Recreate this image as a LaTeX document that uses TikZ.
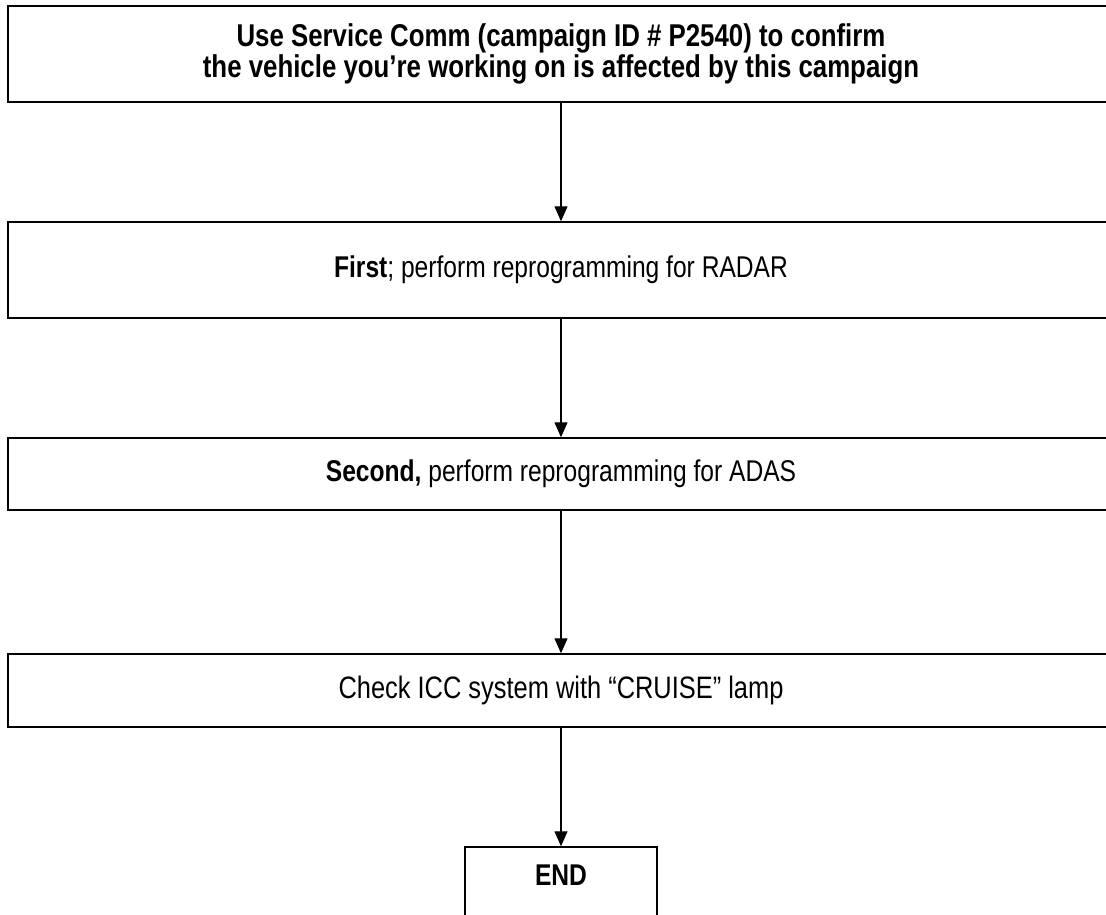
\documentclass[tikz,border=0pt]{standalone}
\usepackage{fontspec}
\setmainfont{Liberation Sans}[FakeStretch=0.82]
\usetikzlibrary{arrows.meta}
\begin{document}
\begin{tikzpicture}[x=1pt,y=-1pt,
    stepbox/.style={draw, line width=1.5pt, minimum width=1106pt, inner sep=0pt,
      font=\fontsize{30}{29}\selectfont, align=center},
    flow/.style={-{Triangle[length=15pt,width=13pt]}, line width=1.3pt}]
  \useasboundingbox (0,0) rectangle (1106,915);
  \clip (0,0) rectangle (1106,915);

  \node[stepbox, minimum height=96pt, font=\fontsize{31.5}{30.5}\selectfont\bfseries] (campaign) at (561,54)
    {Use Service Comm (campaign ID \# P2540) to confirm\\
     the vehicle you’re working on is affected by this campaign};
  \node[stepbox, minimum height=96pt] (radar) at (561,270)
    {\textbf{First}; perform reprogramming for RADAR};
  \node[stepbox, minimum height=72pt] (adas) at (561,474)
    {\textbf{Second,} perform reprogramming for ADAS};
  \node[stepbox, minimum height=73pt, font=\fontsize{31}{29}\selectfont] (icc) at (561,690.5)
    {Check ICC system with “CRUISE” lamp};
  \node[stepbox, minimum width=192pt, minimum height=96pt,
        text height=21.5pt, text depth=40pt] (end) at (561,895)
    {\bfseries END};

  \draw[flow] (campaign) -- (radar);
  \draw[flow] (radar) -- (adas);
  \draw[flow] (adas) -- (icc);
  \draw[flow] (icc) -- (end);
\end{tikzpicture}
\end{document}
